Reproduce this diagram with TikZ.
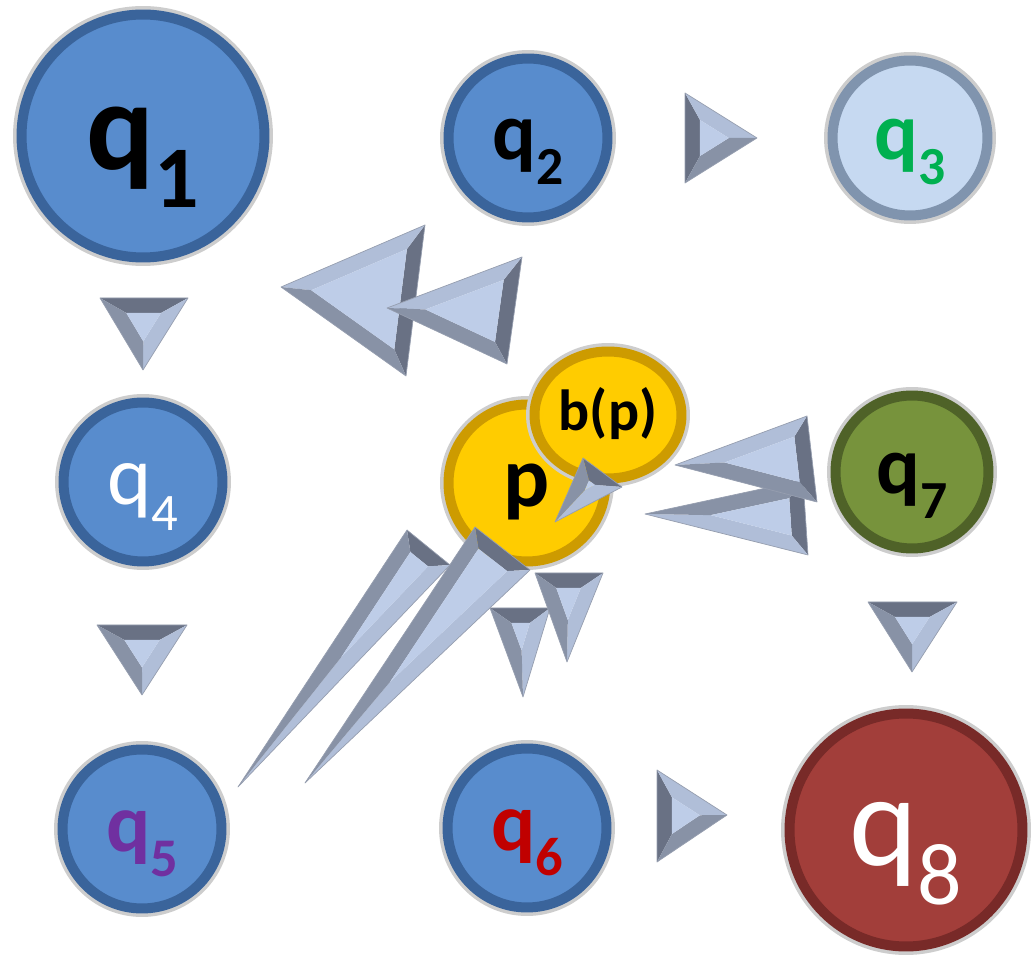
\documentclass[tikz,border=0pt]{standalone}
\usepackage{fontspec}
\setmainfont{Carlito}
\usepackage{tikz}
\usetikzlibrary{shapes.geometric, calc}
\definecolor{st-blue}{RGB}{88,140,205}
\definecolor{st-bluerim}{RGB}{58,100,155}
\definecolor{st-pale}{RGB}{198,217,241}
\definecolor{st-palerim}{RGB}{128,148,174}
\definecolor{st-gold}{RGB}{255,204,0}
\definecolor{st-goldrim}{RGB}{205,155,0}
\definecolor{st-olive}{RGB}{119,147,60}
\definecolor{st-oliverim}{RGB}{79,98,40}
\definecolor{st-red}{RGB}{162,62,58}
\definecolor{st-redrim}{RGB}{120,42,40}
\definecolor{st-silver}{RGB}{205,205,205}
\definecolor{tx-green}{RGB}{0,176,80}
\definecolor{tx-purple}{RGB}{112,48,160}
\definecolor{tx-red}{RGB}{192,0,0}
\definecolor{tri-dark}{RGB}{105,113,132}
\definecolor{tri-mid}{RGB}{136,146,166}
\definecolor{tri-light}{RGB}{176,190,216}
\definecolor{tri-face}{RGB}{190,205,232}
\definecolor{tri-edge}{RGB}{150,158,175}

% state label: q with a lowered index
\newcommand{\qlab}[3]{\fontsize{#1pt}{#1pt}\selectfont q\lower0.3em\hbox{\fontsize{#2pt}{#2pt}\selectfont #3}}

% bevel width (pt)
\def\bvdepth{8.5}
% bevelled arrow head: tip, base corner (light side), base corner (mid side)
\newcommand{\bevel}[3]{%
    \path let \p1=#1, \p2=#2, \p3=#3,
        \n1={veclen(\x2-\x3,\y2-\y3)},
        \n2={veclen(\x1-\x3,\y1-\y3)},
        \n3={veclen(\x1-\x2,\y1-\y2)},
        \n4={abs(((\x2-\x1)/20)*((\y3-\y1)/20)-((\x3-\x1)/20)*((\y2-\y1)/20))/(\n1+\n2+\n3)*400},
        \n5={max(0.15,1-\bvdepth/\n4)},
        \n6={1-\n5},
        \n7={\n1/(\n1+\n2+\n3)},
        \n8={\n2/(\n1+\n2+\n3)},
        \n9={\n3/(\n1+\n2+\n3)}
      in #1 coordinate (bvT) #2 coordinate (bvA) #3 coordinate (bvB)
        (barycentric cs:bvT=\n7,bvA=\n8,bvB=\n9) coordinate (bvI)
        (barycentric cs:bvI=\n6,bvT=\n5) coordinate (bvTi)
        (barycentric cs:bvI=\n6,bvA=\n5) coordinate (bvAi)
        (barycentric cs:bvI=\n6,bvB=\n5) coordinate (bvBi);
    \fill[tri-dark] (bvA) -- (bvB) -- (bvBi) -- (bvAi) -- cycle;
    \fill[tri-light] (bvT) -- (bvA) -- (bvAi) -- (bvTi) -- cycle;
    \fill[tri-mid] (bvT) -- (bvB) -- (bvBi) -- (bvTi) -- cycle;
    \fill[tri-face] (bvTi) -- (bvAi) -- (bvBi) -- cycle;
    \draw[tri-edge, line width=0.4pt, line join=round] (bvT) -- (bvA) -- (bvB) -- cycle;
}

\begin{document}
\begin{tikzpicture}[
    x=0.02cm, y=-0.02cm,
    ball/.style 2 args={circle, fill=#1, draw=#2, line width=0.2cm, preaction={draw=st-silver, line width=0.34cm}, inner sep=0pt, text depth=0pt},
    blueball/.style={ball={st-blue}{st-bluerim}},
    paleball/.style={ball={st-pale}{st-palerim}},
    goldball/.style={ball={st-gold}{st-goldrim}},
    oliveball/.style={ball={st-olive}{st-oliverim}},
    redball/.style={ball={st-red}{st-redrim}}
]
    \useasboundingbox (0,0) rectangle (1032,962);

    % states
    \node[blueball, minimum size=4.86cm, text height=38.5pt, font=\bfseries] (q1) at (143,136) {\qlab{72}{50}{1}};
    \node[blueball, minimum size=3.18cm, text height=25pt, font=\bfseries] (q2) at (528,138) {\qlab{46.5}{30.5}{2}};
    \node[paleball, minimum size=3.1cm, text height=25pt, font=\bfseries, text=tx-green] (q3) at (910,138) {\qlab{46.5}{30.5}{3}};
    \node[blueball, minimum size=3.18cm, text height=25.9pt, text=white] (q4) at (143,482) {\qlab{48}{30}{4}};
    \node[blueball, minimum size=3.18cm, text height=25.4pt, font=\bfseries, text=tx-purple] (q5) at (142,829) {\qlab{47}{31}{5}};
    \node[blueball, minimum size=3.18cm, text height=25.4pt, font=\bfseries, text=tx-red] (q6) at (527,828) {\qlab{47}{31}{6}};
    \node[oliveball, minimum size=3.06cm, text height=25pt, font=\bfseries] (q7) at (912,472) {\qlab{46.5}{30.5}{7}};
    \node[redball, minimum size=4.66cm, text height=40pt, text=white] (q8) at (906,830) {\qlab{74}{50}{8}};
    \node[goldball, minimum size=3.14cm, text height=26.5pt, font=\bfseries\fontsize{49pt}{49pt}\selectfont] (p) at (527,483) {p};
    \node[goldball, ellipse, minimum width=2.94cm, minimum height=2.54cm, text height=17.8pt, font=\bfseries\fontsize{33pt}{33pt}\selectfont] (bp) at (608,415) {b(p)};

    % arrow heads
    \bevel{(757,138)}{(685,93)}{(685,183)}
    \bevel{(143,370)}{(188,298)}{(100,298)}
    \bevel{(142,695)}{(187,625)}{(97,625)}
    \bevel{(912,672)}{(957,602)}{(868,602)}
    \bevel{(727,815)}{(657,770)}{(657,862)}
    \bevel{(281,287)}{(425,225)}{(406,376)}
    \bevel{(387,308)}{(522,257)}{(507,364)}
    \bevel{(645,514)}{(808,555)}{(803,480)}
    \bevel{(675,465)}{(807,416)}{(817,502)}
    \bevel{(555,522)}{(622,487)}{(583,458)}
    \bevel{(523,697)}{(550,608)}{(490,608)}
    \bevel{(567,662)}{(603,573)}{(535,573)}
    \bevel{(238,787)}{(450,565)}{(407,530)}
    \bevel{(305,783)}{(530,570)}{(475,527)}
\end{tikzpicture}
\end{document}
